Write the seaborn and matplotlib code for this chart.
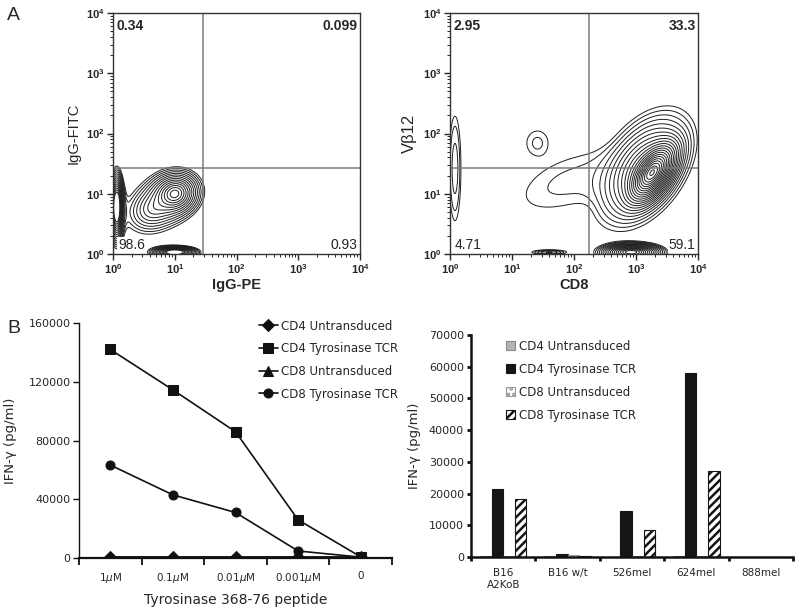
import matplotlib

matplotlib.use("Agg")
import matplotlib.pyplot as plt
import matplotlib.ticker as mticker
import numpy as np
import pandas as pd
import seaborn as sns
from matplotlib.patches import Patch

# ---- panel A: flow populations in log10 units:
# centre, spread, correlation, relative height, peak shape (0.5 = sharp core, 3 = flat top)
IGG_CX = [1.00, 0.65, 0.06, 1.00]
IGG_CY = [1.00, 0.75, 0.78, 0.03]
IGG_SX = [0.12, 0.20, 0.028, 0.092]
IGG_SY = [0.11, 0.18, 0.14, 0.025]
IGG_RHO = [0.1, 0.2, 0.0, 0.0]
IGG_W = [1.0, 0.22, 2.5, 2.0]
IGG_SHAPE = [0.5, 0.5, 0.5, 0.5]
IGG_GATE = (28.8, 26.4)
IGG_QUADRANTS = ["0.34", "0.099", "98.6", "0.93"]

CD8_CX = [3.26, 3.12, 1.90, 1.41, 0.08, 2.92, 1.60]
CD8_CY = [1.35, 1.42, 1.20, 1.84, 1.42, 0.03, 0.03]
CD8_SX = [0.11, 0.27, 1.10, 0.28, 0.11, 0.13, 0.17]
CD8_SY = [0.14, 0.33, 0.69, 0.33, 0.99, 0.04, 0.025]
CD8_RHO = [0.55, 0.45, 0.5, 0.0, 0.0, 0.0, 0.0]
CD8_W = [1.0, 0.1, 0.013, 0.013, 0.017, 0.4, 0.025]
CD8_SHAPE = [0.5, 0.5, 3, 3, 2, 0.5, 0.5]
CD8_GATE = (176, 26.4)
CD8_QUADRANTS = ["2.95", "33.3", "4.71", "59.1"]

# ---- panel B left: peptide titration
PEPTIDE_DOSES = [r"1$\mu$M", r"0.1$\mu$M", r"0.01$\mu$M", r"0.001$\mu$M", "0"]
LINE_SERIES = ["CD4 Untransduced", "CD4 Tyrosinase TCR", "CD8 Untransduced", "CD8 Tyrosinase TCR"]
CD4_UNTRANSDUCED = [500, 500, 500, 500, 500]
CD4_TYROSINASE = [142000, 114500, 86000, 26000, 800]
CD8_UNTRANSDUCED = [600, 500, 500, 500, 500]
CD8_TYROSINASE = [63300, 43000, 31000, 4800, 600]

# ---- panel B right: tumour lines
CELL_LINES = ["B16\nA2KoB", "B16 w/t", "526mel", "624mel", "888mel"]
BAR_CD4_UNTRANSDUCED = [300, 200, 100, 400, 100]
BAR_CD4_TYROSINASE = [21500, 800, 14400, 58000, 100]
BAR_CD8_UNTRANSDUCED = [200, 600, 200, 400, 100]
BAR_CD8_TYROSINASE = [18300, 400, 8500, 27000, 100]

sns.set_theme(style="ticks")
plt.rcParams["font.family"] = ["DejaVu Sans"]
plt.rcParams["mathtext.fontset"] = "custom"
plt.rcParams["mathtext.rm"] = "Liberation Sans"
plt.rcParams["mathtext.bf"] = "Liberation Sans:bold"
plt.rcParams["mathtext.it"] = "DejaVu Sans:italic"
plt.rcParams["hatch.linewidth"] = 1.8

AFONT = "Liberation Sans"


def density(cx, cy, sx, sy, rho, w, shape, gx, gy, blend=1):
    # blend > 1 is a soft maximum, so that nearby islands keep separate outlines
    d = np.zeros_like(gx)
    for x0, y0, a, b, r, h, p in zip(cx, cy, sx, sy, rho, w, shape):
        u = (gx - x0) / a
        v = (gy - y0) / b
        q = (u * u - 2 * r * u * v + v * v) / (1 - r * r)
        d += (h * np.exp((1 - (1 + q) ** p) / (2 * p))) ** blend
    return d ** (1 / blend)


def flow_panel(ax, params, blend, levels, gate, quadrants, xlabel, ylabel, ylabel_size):
    g = np.linspace(0, 4, 600)
    gx, gy = np.meshgrid(g, g)
    d = density(*params, gx, gy, blend=blend)
    ax.contour(10 ** gx, 10 ** gy, d, levels=levels, colors="#1e1e1e", linewidths=0.7)
    ax.set_xscale("log")
    ax.set_yscale("log")
    ax.set_xlim(1, 1e4)
    ax.set_ylim(1, 1e4)
    ax.axvline(gate[0], color="#7a7a7a", lw=1.1)
    ax.axhline(gate[1], color="#7a7a7a", lw=1.1)
    majors = [1, 10, 100, 1000, 10000]
    labels = [rf"$\mathbf{{10^{{{i}}}}}$" for i in range(5)]
    ax.set_xticks(majors, labels)
    ax.set_yticks(majors, labels)
    ax.xaxis.set_minor_locator(mticker.LogLocator(subs=np.arange(2, 10)))
    ax.yaxis.set_minor_locator(mticker.LogLocator(subs=np.arange(2, 10)))
    ax.yaxis.set_minor_formatter(mticker.NullFormatter())
    ax.xaxis.set_minor_formatter(mticker.NullFormatter())
    ax.tick_params(which="major", length=4, width=1, labelsize=8, pad=2)
    ax.tick_params(which="minor", length=2, width=0.7)
    for s in ax.spines.values():
        s.set_visible(True)
        s.set_linewidth(1.0)
        s.set_color("#333333")
    ax.set_xlabel(xlabel, fontsize=10.5, fontweight="bold", family=AFONT, labelpad=1)
    ax.set_ylabel(ylabel, fontsize=ylabel_size, family=AFONT, labelpad=4)
    kw = dict(transform=ax.transAxes, fontsize=10, family=AFONT)
    ax.text(0.015, 0.975, quadrants[0], ha="left", va="top", fontweight="bold", **kw)
    ax.text(0.99, 0.975, quadrants[1], ha="right", va="top", fontweight="bold", **kw)
    box = dict(facecolor="white", edgecolor="none", pad=0.5)
    ax.text(0.02, 0.008, quadrants[2], ha="left", va="bottom", bbox=box, **kw)
    ax.text(0.99, 0.008, quadrants[3], ha="right", va="bottom", bbox=box, **kw)


fig = plt.figure(figsize=(8, 6.11), dpi=100)
ax_igg = fig.add_axes([0.1413, 0.5843, 0.3087, 0.3944])
ax_cd8 = fig.add_axes([0.5625, 0.5843, 0.31, 0.3944])
ax_dose = fig.add_axes([0.09875, 0.0867, 0.39125, 0.3846])
ax_bar = fig.add_axes([0.58875, 0.0884, 0.4025, 0.3633])

flow_panel(ax_igg, (IGG_CX, IGG_CY, IGG_SX, IGG_SY, IGG_RHO, IGG_W, IGG_SHAPE), 1,
           np.geomspace(0.05, 0.92, 14), IGG_GATE, IGG_QUADRANTS, "IgG-PE", "IgG-FITC", 10.5)
flow_panel(ax_cd8, (CD8_CX, CD8_CY, CD8_SX, CD8_SY, CD8_RHO, CD8_W, CD8_SHAPE), 2,
           np.geomspace(0.01, 0.95, 22), CD8_GATE, CD8_QUADRANTS, "CD8", "Vβ12", 12)

# ---- titration line chart
dose_df = pd.DataFrame({
    "dose": PEPTIDE_DOSES * 4,
    "series": np.repeat(LINE_SERIES, len(PEPTIDE_DOSES)),
    "ifn": CD4_UNTRANSDUCED + CD4_TYROSINASE + CD8_UNTRANSDUCED + CD8_TYROSINASE,
})
markers = dict(zip(LINE_SERIES, ["D", "s", "^", "o"]))
sns.lineplot(
    data=dose_df, x="dose", y="ifn", hue="series", style="series",
    markers=markers, dashes=False, palette=["#111111"] * 4, sort=False,
    linewidth=1.2, markersize=6.5, markeredgecolor="#111111", ax=ax_dose,
)
handles, labels = ax_dose.get_legend_handles_labels()
ax_dose.legend(handles, labels, loc="upper left", bbox_to_anchor=(0.56, 1.035), frameon=False,
               fontsize=8.5, handlelength=1.6, handletextpad=0.3, labelspacing=0.82,
               borderaxespad=0)
ax_dose.set_xlim(-0.5, 4.5)
ax_dose.set_ylim(0, 160000)
ax_dose.set_yticks([0, 40000, 80000, 120000, 160000])
ax_dose.yaxis.set_major_formatter(mticker.StrMethodFormatter("{x:.0f}"))
ax_dose.xaxis.set_minor_locator(mticker.FixedLocator(np.arange(-0.5, 5, 1)))
ax_dose.tick_params(axis="x", which="major", length=0, labelsize=7.5, pad=9)
ax_dose.tick_params(axis="x", which="minor", length=5, width=1.3, color="#111111")
ax_dose.tick_params(axis="y", length=4, width=1, labelsize=8, pad=2, color="#111111")
ax_dose.set_xlabel("Tyrosinase 368-76 peptide", fontsize=10, labelpad=6)
ax_dose.set_ylabel("IFN-γ (pg/ml)", fontsize=9.5, labelpad=8)
sns.despine(ax=ax_dose)
ax_dose.spines["left"].set_linewidth(1.0)
ax_dose.spines["bottom"].set_linewidth(1.6)
for s in ("left", "bottom"):
    ax_dose.spines[s].set_color("#111111")

# ---- tumour bar chart
BAR_SERIES = LINE_SERIES
bar_faces = ["#b4b4b4", "#151515", "white", "white"]
bar_edges = ["#8a8a8a", "#151515", "#9a9a9a", "#151515"]
bar_hatches = ["", "", "...", "////"]
bar_df = pd.DataFrame({
    "cell_line": CELL_LINES * 4,
    "series": np.repeat(BAR_SERIES, len(CELL_LINES)),
    "ifn": BAR_CD4_UNTRANSDUCED + BAR_CD4_TYROSINASE + BAR_CD8_UNTRANSDUCED + BAR_CD8_TYROSINASE,
})
sns.barplot(
    data=bar_df, x="cell_line", y="ifn", hue="series", palette=bar_faces,
    saturation=1, width=0.72, errorbar=None, ax=ax_bar, legend=False,
)
for cont, ec, ha in zip(ax_bar.containers, bar_edges, bar_hatches):
    for patch in cont:
        patch.set_edgecolor(ec)
        patch.set_hatch(ha)
        patch.set_linewidth(0.8)
legend_handles = [Patch(facecolor=f, edgecolor=e, hatch=h, linewidth=0.8)
                  for f, e, h in zip(bar_faces, bar_edges, bar_hatches)]
ax_bar.legend(legend_handles, BAR_SERIES, loc="upper left", bbox_to_anchor=(0.093, 1.0),
              frameon=False, fontsize=8.5, handlelength=0.8, handleheight=0.8,
              handletextpad=0.3, labelspacing=0.85, borderaxespad=0)
ax_bar.set_xlim(-0.5, 4.5)
ax_bar.set_ylim(0, 70000)
ax_bar.set_yticks(np.arange(0, 70001, 10000))
ax_bar.yaxis.set_major_formatter(mticker.StrMethodFormatter("{x:.0f}"))
ax_bar.xaxis.set_minor_locator(mticker.FixedLocator(np.arange(-0.5, 5, 1)))
ax_bar.tick_params(axis="x", which="major", length=0, labelsize=7.5, pad=8)
ax_bar.tick_params(axis="x", which="minor", length=3, width=2, color="#111111")
ax_bar.tick_params(axis="y", length=3, width=2, labelsize=8, pad=2, color="#111111")
ax_bar.set_xlabel("")
ax_bar.set_ylabel("IFN-γ (pg/ml)", fontsize=9.5, labelpad=6)
sns.despine(ax=ax_bar)
for s in ("left", "bottom"):
    ax_bar.spines[s].set_linewidth(1.8)
    ax_bar.spines[s].set_color("#111111")

fig.text(0.009, 0.988, "A", fontsize=14, va="top", family=AFONT)
fig.text(0.009, 1 - 320 / 611, "B", fontsize=14, va="top", family=AFONT)

fig.savefig("out.png", dpi=100)
